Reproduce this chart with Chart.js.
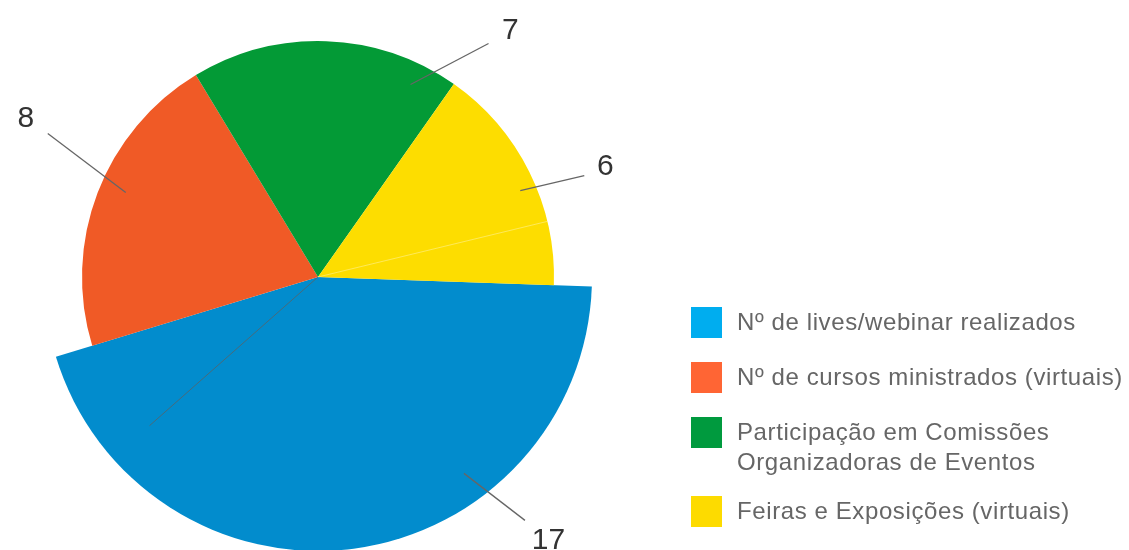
<!DOCTYPE html>
<html lang="pt-BR">
<head>
<meta charset="utf-8">
<title>Ações virtuais</title>
<script src="https://cdn.jsdelivr.net/npm/chart.js@4.4.1/dist/chart.umd.min.js"></script>
<style>
  html, body { margin: 0; padding: 0; background: #fff; }
  #wrap { position: relative; width: 1129px; height: 550px; overflow: hidden; }
  #pie { position: absolute; left: 0; top: 0; }
  #legend {
    position: absolute; left: 691px; top: 0; margin: 0; padding: 0; list-style: none;
    font-family: "Liberation Sans", Arial, sans-serif; font-size: 24px;
    letter-spacing: 0.6px; color: #666;
  }
  #legend li { position: absolute; left: 0; white-space: nowrap; line-height: 30px; }
  #legend .sw { position: absolute; left: 0; top: 0; width: 31px; height: 31px; }
  #legend .tx { position: absolute; left: 46px; top: 0; }
</style>
</head>
<body>
<div id="wrap">
  <canvas id="pie" width="1129" height="550"></canvas>
  <ul id="legend"></ul>
</div>
<script>
// Categories and counts
const categories = [
  'Nº de lives/webinar realizados',
  'Nº de cursos ministrados (virtuais)',
  ['Participação em Comissões', 'Organizadoras de Eventos'],
  'Feiras e Exposições (virtuais)'
];
const values = [17, 8, 7, 6];

// Colours: slices and legend swatches
const sliceColors  = ['#028ccd', '#f05a26', '#039a36', '#fddd00'];
const legendColors = ['#00adef', '#ff6534', '#009a3e', '#fddb00'];

// Geometry / styling
const PIE_RADIUS = 236;
const radiusScale = [1.161, 1, 1, 1];          // the first slice stands out
const callout = {
  at:     [0.319, 0.537, 0.857, 0.558],        // position along each arc (0..1)
  depth:  [0.893, 0.89, 0.905, 0.932],         // where the leader starts (fraction of radius)
  leader: [[61, 47], [-78, -59], [78, -41], [64, -15]],
  text:   [[23.5, 18], [-22, -17.5], [21.7, -15.8], [21, -11.5]]
};
const legendTops = [307, 362, 417, 496];

// Enlarge individual slices after the controller lays them out
const sliceRadius = {
  id: 'sliceRadius',
  afterDatasetsUpdate(chart) {
    chart.getDatasetMeta(0).data.forEach((arc, i) => {
      arc.outerRadius = PIE_RADIUS * radiusScale[i];
    });
  }
};

// Value labels with leader lines, plus the thin seams inside the slices
const callouts = {
  id: 'callouts',
  afterDatasetsDraw(chart) {
    const ctx = chart.ctx;
    const arcs = chart.getDatasetMeta(0).data;
    ctx.save();

    // seams
    const seam = (arc, frac, len, style) => {
      const a = arc.startAngle + (arc.endAngle - arc.startAngle) * frac;
      ctx.beginPath();
      ctx.moveTo(arc.x, arc.y);
      ctx.lineTo(arc.x + Math.cos(a) * arc.outerRadius * len, arc.y + Math.sin(a) * arc.outerRadius * len);
      ctx.strokeStyle = style;
      ctx.lineWidth = 1;
      ctx.stroke();
    };
    seam(arcs[0], 0.848, 0.82, 'rgba(95,95,95,0.75)');
    seam(arcs[3], 0.725, 1.0, 'rgba(255,255,255,0.35)');

    ctx.font = '30px "Liberation Sans", Arial, sans-serif';
    ctx.textAlign = 'center';
    ctx.textBaseline = 'alphabetic';
    arcs.forEach((arc, i) => {
      const a = arc.startAngle + (arc.endAngle - arc.startAngle) * callout.at[i];
      const r = arc.outerRadius * callout.depth[i];
      const x0 = arc.x + Math.cos(a) * r;
      const y0 = arc.y + Math.sin(a) * r;
      const x1 = x0 + callout.leader[i][0];
      const y1 = y0 + callout.leader[i][1];
      ctx.beginPath();
      ctx.moveTo(x0, y0);
      ctx.lineTo(x1, y1);
      ctx.strokeStyle = '#666';
      ctx.lineWidth = 1.3;
      ctx.stroke();
      ctx.fillStyle = '#333';
      ctx.fillText(String(values[i]), x1 + callout.text[i][0], y1 + callout.text[i][1] + 10.8);
    });
    ctx.restore();
  }
};

new Chart(document.getElementById('pie'), {
  type: 'pie',
  data: {
    labels: categories,
    datasets: [{
      data: values,
      backgroundColor: sliceColors,
      borderWidth: 0,
      clip: false
    }]
  },
  options: {
    responsive: false,
    animation: false,
    rotation: 92,
    radius: PIE_RADIUS,
    layout: { padding: { left: 0, right: 493, top: 4, bottom: 0 } },
    plugins: { legend: { display: false }, tooltip: { enabled: false } }
  },
  plugins: [sliceRadius, callouts]
});

// Legend
const legend = document.getElementById('legend');
categories.forEach((label, i) => {
  const li = document.createElement('li');
  li.style.top = legendTops[i] + 'px';
  const sw = document.createElement('span');
  sw.className = 'sw';
  sw.style.background = legendColors[i];
  const tx = document.createElement('span');
  tx.className = 'tx';
  (Array.isArray(label) ? label : [label]).forEach((line, k) => {
    if (k) tx.appendChild(document.createElement('br'));
    tx.appendChild(document.createTextNode(line));
  });
  li.appendChild(sw);
  li.appendChild(tx);
  legend.appendChild(li);
});
</script>
</body>
</html>
